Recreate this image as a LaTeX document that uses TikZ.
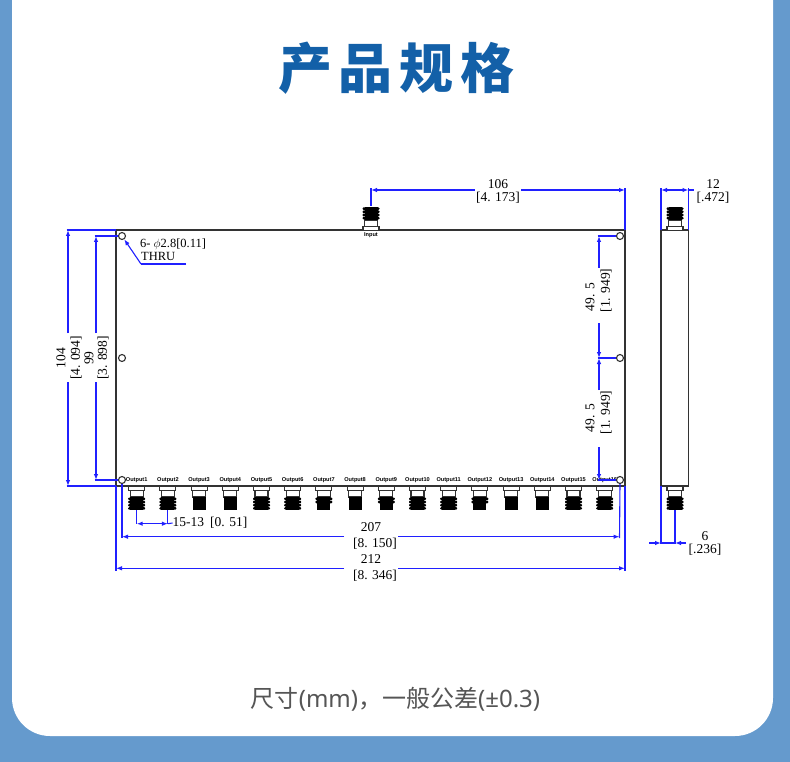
\documentclass[tikz,border=0pt]{standalone}
\usepackage{fontspec}
\usetikzlibrary{arrows.meta}
\setmainfont{Liberation Serif}
\newfontfamily\cjkfont{Noto Sans CJK SC}
\newfontfamily\capfont{Noto Sans}
\newfontfamily\lblfont{Liberation Sans}
\definecolor{bandblue}{HTML}{659ACD}
\definecolor{titleblue}{HTML}{1360A8}
\definecolor{dimblue}{HTML}{2020FF}
\definecolor{capgrey}{HTML}{555555}
\definecolor{bodygrey}{HTML}{333333}
\tikzset{
  outline/.style={draw=bodygrey,line width=1.1pt},
  dim/.style={draw=dimblue,line width=1.1pt},
  tip/.style={dim,-{Latex[length=6pt,width=4.5pt]}},
  num/.style={inner sep=0pt,font=\fontsize{13.5}{14}\selectfont},
  portlbl/.style={inner sep=0pt,font=\lblfont\bfseries\fontsize{5.6}{6}\selectfont},
  hole/.style={circle,draw=bodygrey,line width=1.1pt,fill=white,minimum size=7pt,inner sep=0pt},
  pics/sma/.style={code={
    \draw[outline,fill=white] (-8,0) -- (-8,3.5) -- (8,3.5) -- (8,0);
    \draw[outline,fill=white] (-6.5,3.5) rectangle (6.5,10);
    \fill[black] (-6.5,10) rectangle (6.5,23);
    \foreach \k in {1,2,3,4}{
      \ifnum\k>#1\else
        \fill[black,rounded corners=1pt] (-8.5,{7.3+3.2*\k}) rectangle (8.5,{9.9+3.2*\k});
      \fi
    }
  }}
}
\begin{document}
\begin{tikzpicture}[x=1pt,y=-1pt]
  \useasboundingbox (0,0) rectangle (790,762);
  \fill[bandblue] (0,0) rectangle (790,762);
  \fill[white,rounded corners=38pt] (12,-60) rectangle (773,736);
  \node[inner sep=0pt,text=titleblue,font=\cjkfont\bfseries\fontsize{54}{60}\selectfont] (title) at (396.5,68) {产\hspace{7pt}品\hspace{7pt}规\hspace{7pt}格};
  \node[inner sep=0pt,text=capgrey,font=\cjkfont\fontsize{24}{26}\selectfont] (caption) at (395.5,699) {尺寸{\capfont(mm)}，一般公差{\capfont(±0.3)}};
  % front view
  \draw[outline] (116,230) rectangle (625,486);
  \foreach \i/\rows [count=\n] in {0/4,1/4,2/0,3/0,4/4,5/4,6/2,7/0,8/2,9/4,10/4,11/2,12/0,13/0,14/4,15/4}{
    \pic at ({136.7+31.2*\i},487) {sma=\rows};
    \node[portlbl] (out\n) at ({136.7+31.2*\i},480) {Output\n};
  }
  \pic[yscale=-1] at (371,230) {sma=4};
  \node[portlbl] (input) at (371,235.5) {Input};
  \node[hole] (hTL) at (122,236) {};
  \node[hole] (hML) at (122,358) {};
  \node[hole] (hBL) at (122,480) {};
  \node[hole] (hTR) at (620,236) {};
  \node[hole] (hMR) at (620,358) {};
  \node[hole] (hBR) at (620,480) {};
  % side view
  \draw[outline] (661,230) rectangle (688.5,486);
  \pic[yscale=-1] at (675,230) {sma=4};
  \pic at (675,487) {sma=4};
  % 106
  \node[num] (d106) at (498,184) {106};
  \node[num] (d106b) at (498,198) {[4. 173]};
  \draw[dim] (371,206) -- (371,188);
  \draw[dim] (625,230) -- (625,188);
  \draw[tip] (475,190) -- (371,190);
  \draw[tip] (521,190) -- (625,190);
  % 12
  \node[num] (d12) at (713,184) {12};
  \node[num] (d12b) at (713,198) {[.472]};
  \draw[dim] (661,230) -- (661,188);
  \draw[dim] (688.5,230) -- (688.5,188);
  \draw[tip] (675,190) -- (661,190);
  \draw[tip] (675,190) -- (688.5,190);
  \draw[dim] (688.5,190) -- (694,190);
  % 104 and 99
  \node[num,rotate=90] (d104) at (61,358) {104};
  \node[num,rotate=90] (d104b) at (76,358) {[4. 094]};
  \node[num,rotate=90] (d99) at (89,358) {99};
  \node[num,rotate=90] (d99b) at (103,358) {[3. 898]};
  \draw[dim] (66.5,230) -- (116,230);
  \draw[dim] (66.5,486) -- (116,486);
  \draw[tip] (68,333) -- (68,230);
  \draw[tip] (68,382) -- (68,486);
  \draw[dim] (94.5,236) -- (hTL.west);
  \draw[dim] (94.5,480) -- (hBL.west);
  \draw[tip] (96,333) -- (96,236);
  \draw[tip] (96,382) -- (96,480);
  % hole note
  \node[num,anchor=west,font=\fontsize{12.5}{13}\selectfont] (note) at (140,244) {6- $\phi$2.8[0.11]};
  \node[num,anchor=west,font=\fontsize{12.5}{13}\selectfont] (thru) at (141,256.5) {THRU};
  \coordinate (kneeN) at (141,264);
  \draw[dim] (186,264) -- (kneeN);
  \draw[tip] (kneeN) -- (hTL);
  % 49.5
  \node[num,rotate=90] (d495a) at (590,297) {49. 5};
  \node[num,rotate=90] (d495ab) at (606,290.5) {[1. 949]};
  \node[num,rotate=90] (d495c) at (590,418) {49. 5};
  \node[num,rotate=90] (d495cb) at (606,412.5) {[1. 949]};
  \draw[dim] (597.5,236) -- (hTR.west);
  \draw[dim] (597.5,358) -- (hMR.west);
  \draw[dim] (597.5,480) -- (hBR.west);
  \draw[tip] (599,268) -- (599,236);
  \draw[tip] (599,323) -- (599,358);
  \draw[tip] (599,390) -- (599,358);
  \draw[tip] (599,447) -- (599,480);
  % 15-13
  \node[num,anchor=west] (d15) at (172.5,523) {15-13\hspace{6pt}[0. 51]};
  \draw[dim] (136.7,510) -- (136.7,524);
  \draw[dim] (167.9,510) -- (167.9,524);
  \draw[tip] (150,523.7) -- (136.7,523.7);
  \draw[tip] (155,523.7) -- (167.9,523.7);
  \draw[dim] (150,523.7) -- (155,523.7);
  \draw[dim] (167.9,523.7) -- (d15.west);
  % 207 and 212
  \node[num] (d207) at (371,527) {207};
  \node[num] (d207b) at (375,544) {[8. 150]};
  \node[num] (d212) at (371,559) {212};
  \node[num] (d212b) at (375,576) {[8. 346]};
  \draw[dim] (hBL.south) -- (122,538);
  \draw[dim] (hBR.south) -- (619.5,538);
  \draw[tip] (344,536.7) -- (122,536.7);
  \draw[tip] (398,536.7) -- (619.5,536.7);
  \draw[dim] (116,486) -- (116,571);
  \draw[dim] (625,486) -- (625,571);
  \draw[tip] (344,568.3) -- (116,568.3);
  \draw[tip] (398,568.3) -- (625,568.3);
  % 6
  \node[num] (d6) at (705,536) {6};
  \node[num] (d6b) at (705,550) {[.236]};
  \draw[dim] (661,486) -- (661,544);
  \draw[dim] (675,510) -- (675,544);
  \draw[dim] (661,543) -- (675,543);
  \draw[tip] (649,543) -- (661,543);
  \draw[tip] (686,543) -- (675,543);
\end{tikzpicture}
\end{document}
